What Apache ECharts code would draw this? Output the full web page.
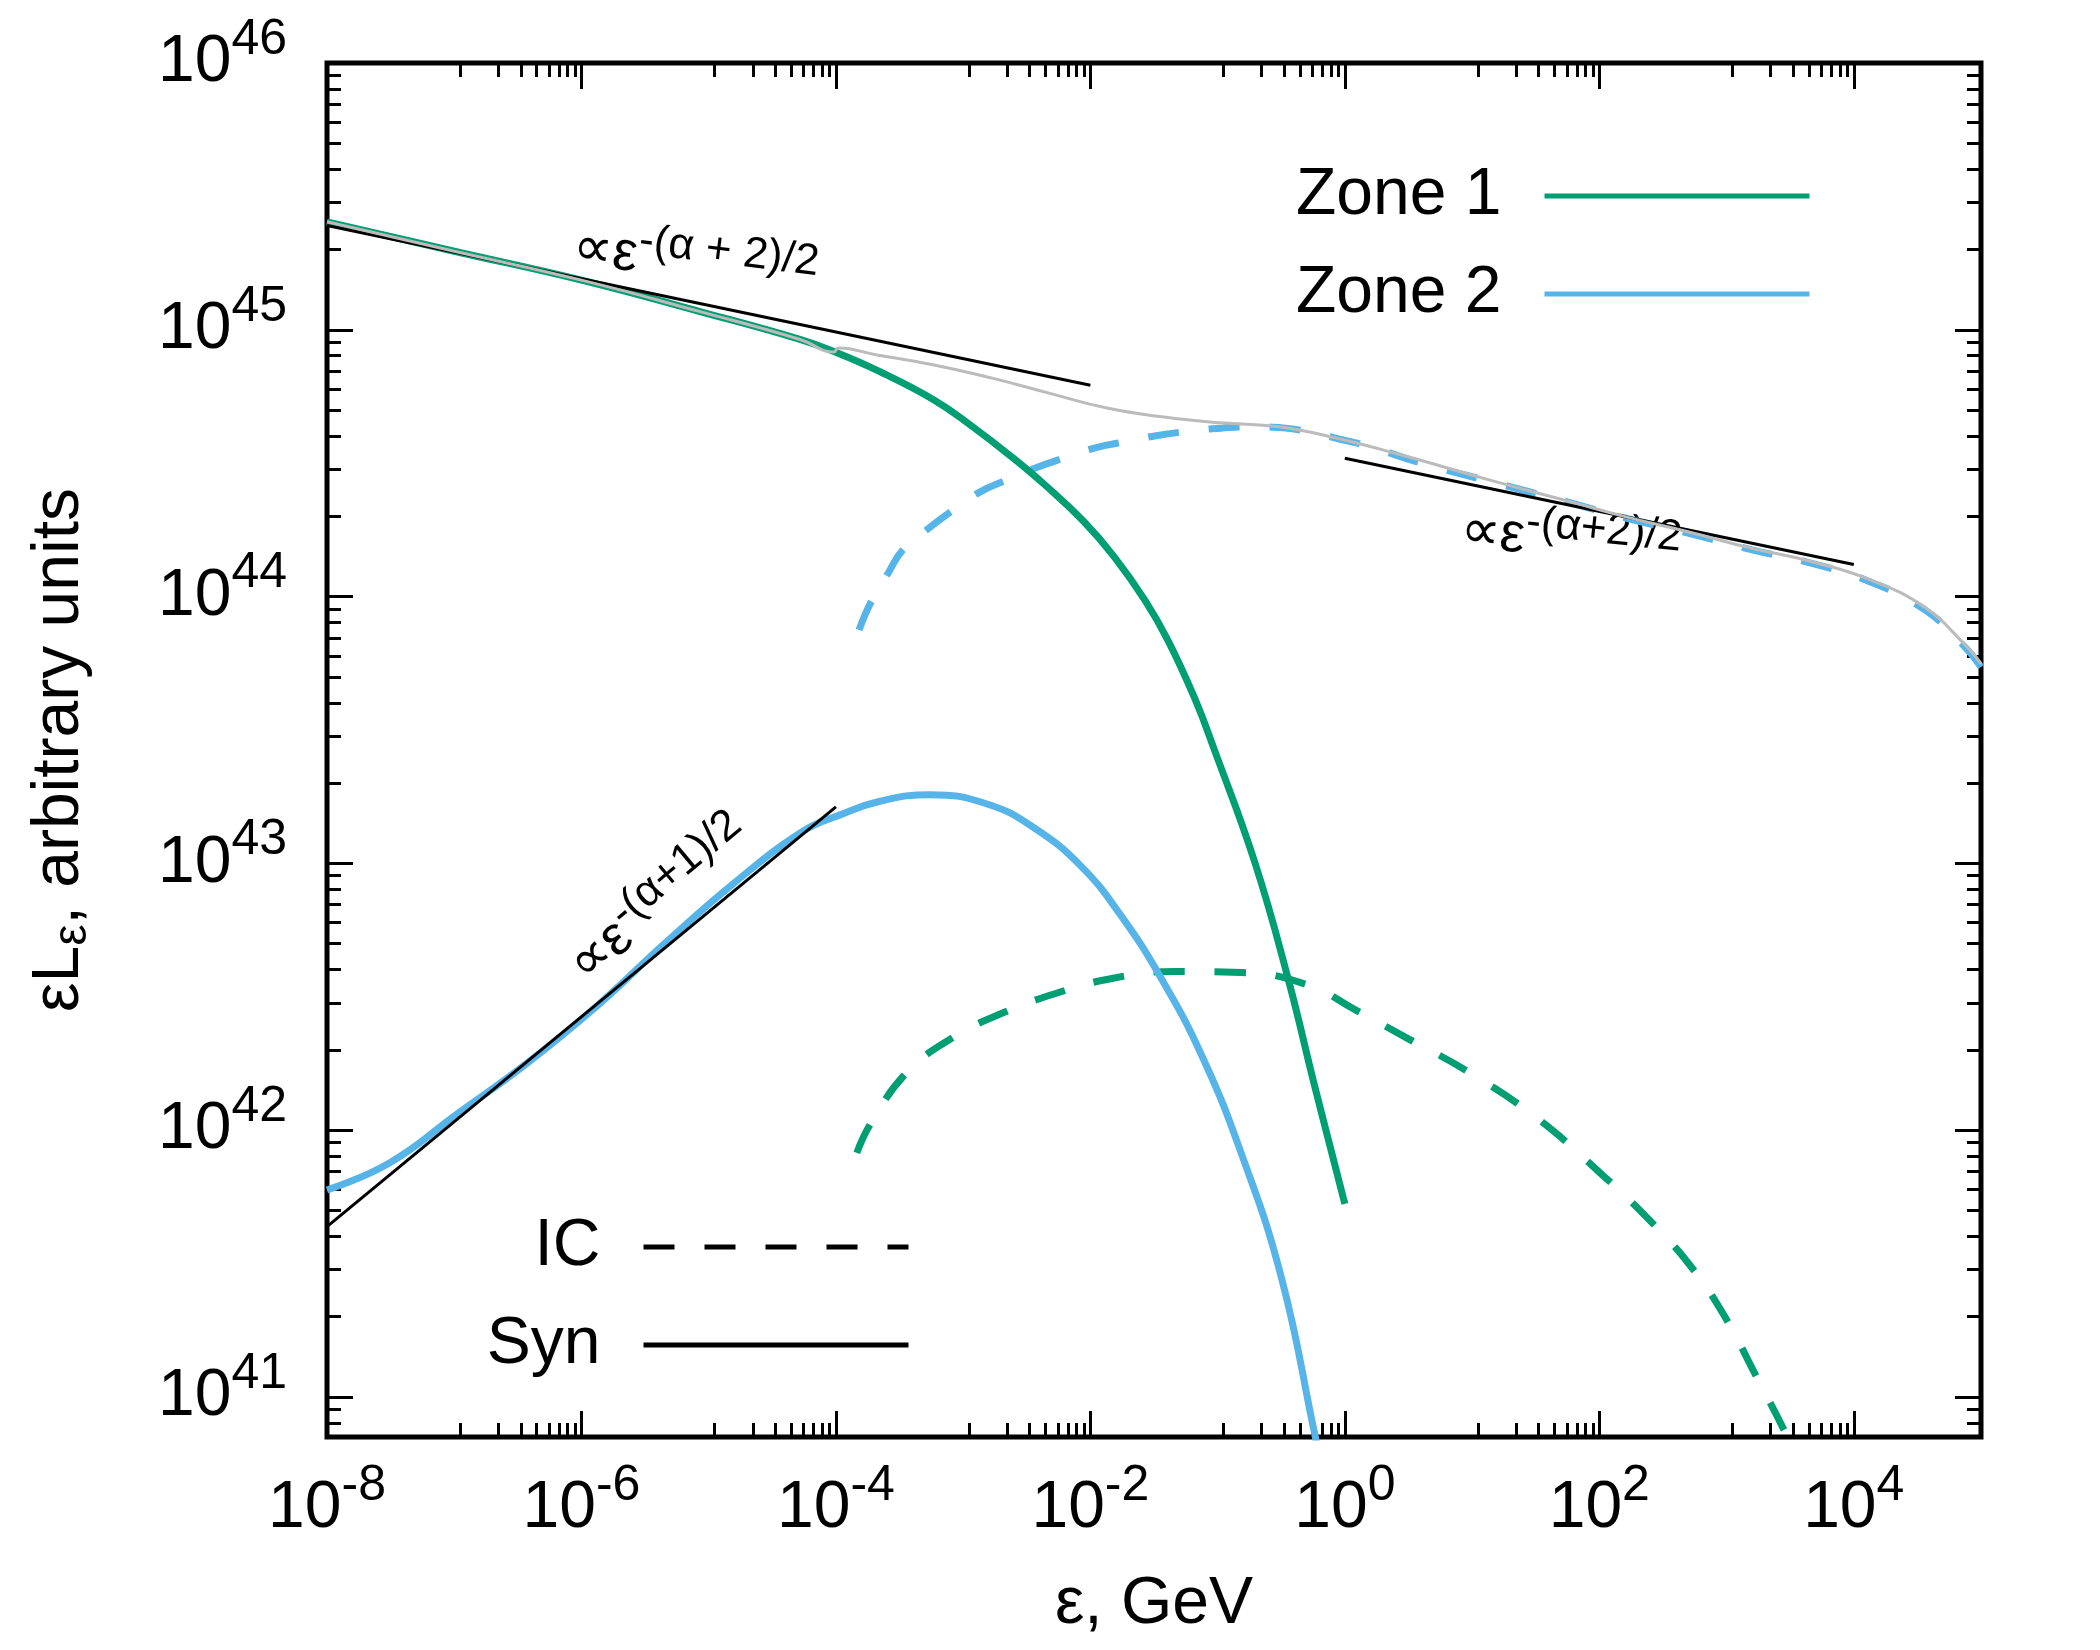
<!DOCTYPE html>
<html>
<head>
<meta charset="utf-8">
<script src="https://cdn.jsdelivr.net/npm/echarts@6.0.0/dist/echarts.min.js"></script>
<style>
  html, body { margin: 0; padding: 0; background: #fff; }
  #chart { width: 2100px; height: 1650px; }
</style>
</head>
<body>
<div id="chart"></div>
<script>
const GREEN = '#009e73';
const BLUE = '#56b4e9';
const GRAY = '#bbbbbb';
const FONT = '"Liberation Sans", Arial, Helvetica, sans-serif';

// axes (energy in GeV, eL_e in arbitrary units)
const xRange = [1e-8, 1e5];
const yRange = [7.08e40, 1.0001e46];
const xMajor = [1e-8, 1e-6, 1e-4, 1e-2, 1, 1e2, 1e4];
const yMajor = [1e41, 1e42, 1e43, 1e44, 1e45, 1e46];
// gnuplot-like minor tics: 8 per two-decade step on x, 2..9 per decade on y
const xMinor = [];
[1e-6, 1e-4, 1e-2, 1, 1e2, 1e4].forEach(top => { for (let k = 1; k <= 8; k++) xMinor.push(top * k / 9); });
const yMinor = [];
[1e40, 1e41, 1e42, 1e43, 1e44, 1e45].forEach(d => { for (let k = 2; k <= 9; k++) yMinor.push(d * k); });

// Zone 1, synchrotron
const zone1Syn = [
  [1e-8, 2.54e45], [1e-7, 1.97e45], [1e-6, 1.535e45], [8.55e-6, 1.17e45],
  [5.22e-5, 9.2e44], [1.04e-4, 8.17e44], [2.09e-4, 7.06e44], [5.9e-4, 5.46e44],
  [1.18e-3, 4.34e44], [2.37e-3, 3.36e44], [4.4e-3, 2.62e44], [8.8e-3, 1.92e44],
  [1.54e-2, 1.41e44], [2.68e-2, 9.7e43], [4.06e-2, 6.87e43], [6.6e-2, 4.16e43],
  [9.5e-2, 2.64e43], [0.196, 1.01e43], [0.357, 3.72e42], [0.582, 1.45e42],
  [1.0, 5.3e41]
];
// Zone 1, inverse Compton
const zone1IC = [
  [1.46e-4, 8.22e41], [1.88e-4, 1.06e42], [3.63e-4, 1.65e42], [8.51e-4, 2.24e42],
  [1.97e-3, 2.73e42], [5.18e-3, 3.24e42], [1.54e-2, 3.72e42], [4.59e-2, 3.93e42],
  [0.154, 3.9e42], [0.515, 3.5e42], [1.2, 2.83e42], [3.16, 2.2e42],
  [9.42, 1.65e42], [31.6, 1.12e42], [106, 6.79e41], [248, 4.6e41],
  [512, 3.13e41], [940, 2.05e41], [1722, 1.19e41], [2965, 7.2e40], [3400, 6.2e40]
];
// Zone 2, synchrotron
const zone2Syn = [
  [1e-8, 5.97e41], [3.07e-8, 7.52e41], [1.07e-7, 1.156e42], [3.72e-7, 1.78e42],
  [1.3e-6, 2.9e42], [4.52e-6, 5.01e42], [1.57e-5, 8.41e42], [5.5e-5, 1.32e43],
  [1.08e-4, 1.52e43], [2.22e-4, 1.71e43], [5.53e-4, 1.81e43], [1.54e-3, 1.67e43],
  [3.6e-3, 1.36e43], [8.43e-3, 9.77e42], [1.74e-2, 6.37e42], [3.59e-2, 3.72e42],
  [7.41e-2, 1.93e42], [0.153, 8.22e41], [0.318, 2.79e41], [0.582, 7.2e40], [0.62, 6.2e40]
];
// Zone 2, inverse Compton
const zone2IC = [
  [1.52e-4, 7.5e43], [1.89e-4, 9.55e43], [2.56e-4, 1.22e44], [3.37e-4, 1.5e44],
  [5.48e-4, 1.82e44], [8.32e-4, 2.11e44], [1.36e-3, 2.47e44], [2.21e-3, 2.74e44],
  [3.87e-3, 3.06e44], [6.21e-3, 3.31e44], [1.09e-2, 3.61e44], [1.91e-2, 3.81e44],
  [3.28e-2, 4.01e44], [5.75e-2, 4.16e44], [0.106, 4.28e44], [0.186, 4.33e44],
  [0.327, 4.29e44], [0.532, 4.14e44], [0.984, 3.86e44], [1.61, 3.64e44],
  [3.76, 3.19e44], [14.3, 2.69e44], [56.8, 2.26e44], [162, 1.97e44],
  [498, 1.73e44], [1556, 1.5e44], [4446, 1.34e44], [1.32e4, 1.14e44],
  [3.63e4, 8.91e43], [7.48e4, 6.47e43], [1e5, 5.45e43]
];
// total
const total = [
  [1e-8, 2.54e45], [1e-7, 1.97e45], [1e-6, 1.535e45], [8.55e-6, 1.17e45],
  [5.22e-5, 9.2e44], [9.66e-5, 8.25e44], [1.04e-4, 8.55e44], [2.1e-4, 8.05e44],
  [5.9e-4, 7.38e44], [1.69e-3, 6.59e44], [4.73e-3, 5.79e44], [1.35e-2, 5.09e44],
  [3.79e-2, 4.71e44], [0.106, 4.48e44], [0.304, 4.33e44], [0.851, 3.93e44],
  [2.75, 3.4e44], [14.3, 2.72e44], [56.8, 2.28e44], [162, 1.99e44],
  [498, 1.75e44], [1556, 1.52e44], [4446, 1.36e44], [1.32e4, 1.16e44],
  [3.63e4, 9.1e43], [7.48e4, 6.6e43], [1e5, 5.6e43]
];
// power-law guides
const guideLow = [[1e-8, 2.46e45], [1e-2, 6.2e44]];
const guideHigh = [[1, 3.3e44], [1e4, 1.32e44]];
const guideRise = [[1e-8, 4.35e41], [1e-4, 1.63e43]];

// annotations
const noteExp = ['-(α + 2)/2', '-(α+2)/2', '-(α+1)/2'];
const notePos = [[7.8e-6, 1.78e45], [59, 1.6e44], [4.2e-6, 7.2e42]];
const noteAngle = [-7, -6, 40];

const chart = echarts.init(document.getElementById('chart'), null, { renderer: 'canvas' });

const powLabel = v => '{b|10}{s|' + Math.round(Math.log10(v)) + '}';
const tickRich = {
  b: { fontSize: 66, lineHeight: 66, fontFamily: FONT, color: '#000' },
  s: { fontSize: 50, lineHeight: 50, fontFamily: FONT, color: '#000', padding: [0, 0, 46, 0] }
};

function logAxis(dim, position, ticks, len, main) {
  const range = dim === 'x' ? xRange : yRange;
  const ax = {
    type: 'log', logBase: 10, position: position, gridIndex: 0,
    min: range[0], max: range[1],
    splitLine: { show: false },
    axisLine: { show: false, onZero: false },
    axisTick: { show: true, inside: true, length: len, customValues: ticks,
      lineStyle: { color: '#000', width: 3 } },
    axisLabel: { show: false }
  };
  if (main) {
    ax.axisLabel = {
      show: true, customValues: dim === 'x' ? xMajor : yMajor,
      formatter: powLabel, rich: tickRich,
      margin: dim === 'x' ? 39 : 40
    };
  }
  return ax;
}

const xAxes = [
  logAxis('x', 'bottom', xMajor, 26, true),
  logAxis('x', 'bottom', xMinor, 14, false),
  logAxis('x', 'top', xMajor, 26, false),
  logAxis('x', 'top', xMinor, 14, false)
];
xAxes[0].name = 'ε, GeV';
xAxes[0].nameLocation = 'middle';
xAxes[0].nameGap = 135;
xAxes[0].nameTextStyle = { fontSize: 66, fontFamily: FONT, color: '#000' };

const yAxes = [
  logAxis('y', 'left', yMajor, 26, true),
  logAxis('y', 'left', yMinor, 14, false),
  logAxis('y', 'right', yMajor, 26, false),
  logAxis('y', 'right', yMinor, 14, false)
];
yAxes[0].name = '{a|εL}{u|ε}{a|, arbitrary units}';
yAxes[0].nameLocation = 'middle';
yAxes[0].nameRotate = 90;
yAxes[0].nameGap = 234;
yAxes[0].nameTextStyle = {
  rich: {
    a: { fontSize: 66, lineHeight: 66, fontFamily: FONT, color: '#000' },
    u: { fontSize: 48, lineHeight: 48, fontFamily: FONT, color: '#000', padding: [26, 0, 0, 0] }
  }
};

function curve(name, data, color, width, dashed) {
  return {
    name: name, type: 'line', data: data, xAxisIndex: 0, yAxisIndex: 0,
    symbol: 'none', smooth: 0.45, silent: true, clip: true,
    color: color,
    lineStyle: { color: color, width: width, type: dashed ? [31, 30] : 'solid', cap: 'butt' }
  };
}

const notes = notePos.map((p, i) => ({ value: p, label: { rotate: noteAngle[i] } }));

const legendBase = {
  orient: 'vertical', align: 'right', itemWidth: 265, itemHeight: 20, itemGap: 28,
  padding: 0, selectedMode: false,
  itemStyle: { opacity: 0, borderWidth: 0 },
  lineStyle: { width: 5 },
  textStyle: { fontSize: 66, lineHeight: 70, fontFamily: FONT, color: '#000', padding: [0, 38, 0, 0] }
};

const option = {
  animation: false,
  backgroundColor: '#fff',
  grid: { left: 327, right: 119, top: 63, bottom: 213, show: true,
    borderColor: '#000', borderWidth: 5, backgroundColor: 'transparent',
    containLabel: false, outerBoundsMode: 'none' },
  xAxis: xAxes,
  yAxis: yAxes,
  legend: [
    Object.assign({}, legendBase, { data: ['Zone 1', 'Zone 2'], right: 288, top: 161 }),
    Object.assign({}, legendBase, { data: ['IC', 'Syn'], right: 1189, top: 1212 })
  ],
  series: [
    curve('zone1IC', zone1IC, GREEN, 7, true),
    curve('zone2IC', zone2IC, BLUE, 7, true),
    curve('zone1Syn', zone1Syn, GREEN, 7, false),
    curve('zone2Syn', zone2Syn, BLUE, 7, false),
    curve('guideLow', guideLow, '#000', 3, false),
    curve('guideHigh', guideHigh, '#000', 3, false),
    curve('guideRise', guideRise, '#000', 3, false),
    curve('total', total, GRAY, 3, false),
    // legend-only entries
    curve('Zone 1', [], GREEN, 5, false),
    curve('Zone 2', [], BLUE, 5, false),
    curve('IC', [], '#000', 5, true),
    curve('Syn', [], '#000', 5, false),
    {
      name: 'notes', type: 'scatter', data: notes, symbolSize: 0, silent: true,
      xAxisIndex: 0, yAxisIndex: 0,
      itemStyle: { opacity: 1 },
      label: {
        show: true, position: 'inside', color: '#000', opacity: 1, textBorderWidth: 0,
        formatter: p => '{b|∝ε}{s|' + noteExp[p.dataIndex] + '}',
        rich: {
          b: { fontSize: 56, lineHeight: 56, fontFamily: FONT, color: '#000' },
          s: { fontSize: 44, lineHeight: 44, fontFamily: FONT, color: '#000', padding: [0, 0, 30, 0] }
        }
      }
    }
  ]
};

chart.setOption(option);
</script>
</body>
</html>
